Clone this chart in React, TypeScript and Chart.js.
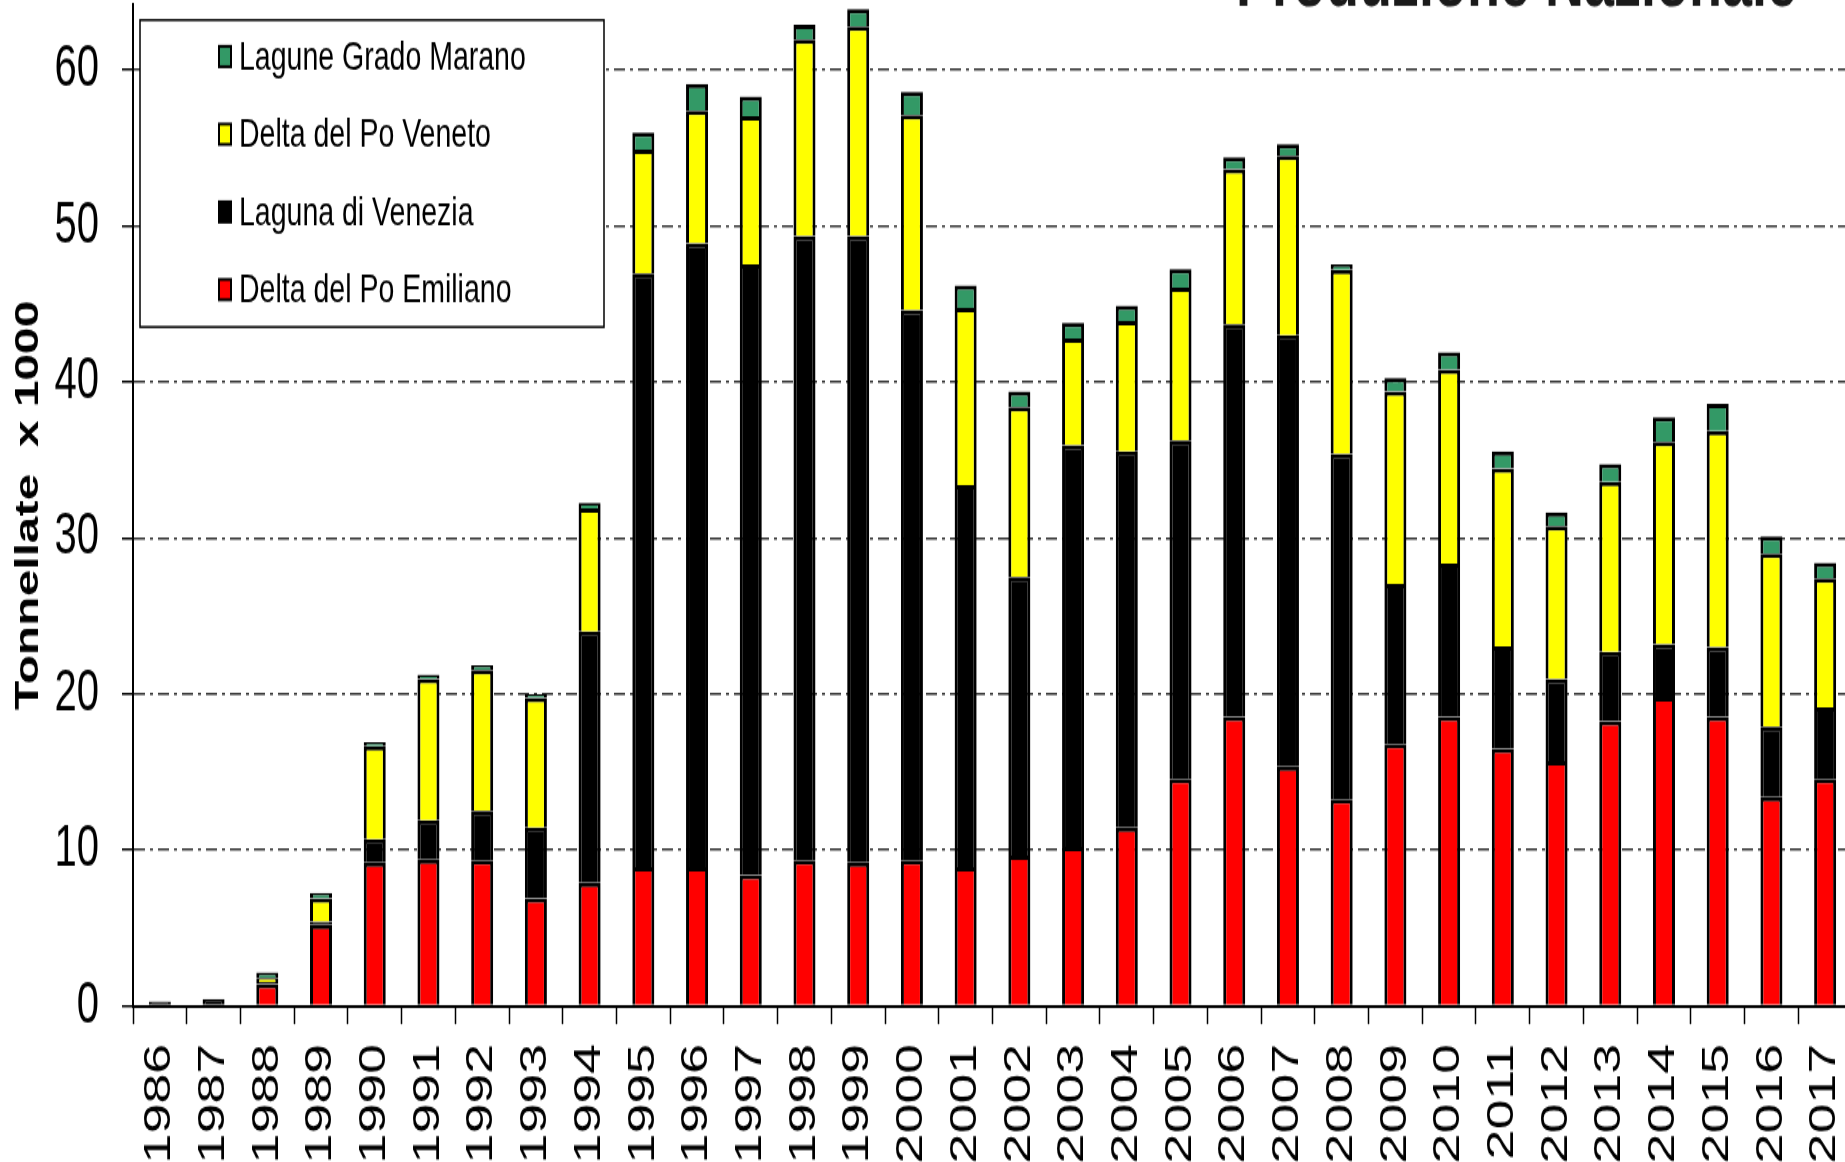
import React, { useEffect, useRef } from "react";
import { Chart, registerables } from "chart.js";

Chart.register(...registerables);

// ---------- data ----------
const YEARS = [
  "1986", "1987", "1988", "1989", "1990", "1991", "1992", "1993", "1994", "1995", "1996",
  "1997", "1998", "1999", "2000", "2001", "2002", "2003", "2004", "2005", "2006", "2007",
  "2008", "2009", "2010", "2011", "2012", "2013", "2014", "2015", "2016", "2017",
];

const DELTA_PO_EMILIANO = [
  0, 0, 1.4, 5.2, 9.2, 9.4, 9.35, 6.9, 7.9, 8.9, 8.9,
  8.4, 9.35, 9.2, 9.35, 8.9, 9.65, 10.2, 11.45, 14.55, 18.55, 15.35,
  13.25, 16.8, 18.55, 16.5, 15.7, 18.25, 19.8, 18.55, 13.4, 14.55,
];

const LAGUNA_DI_VENEZIA = [
  0.3, 0.45, 0.15, 0.2, 1.5, 2.5, 3.15, 4.55, 16.1, 38.05, 40.0,
  39.15, 40.0, 40.15, 35.25, 24.5, 17.85, 25.75, 24.1, 21.7, 25.15, 27.65,
  22.15, 10.25, 9.8, 6.55, 5.25, 4.45, 3.4, 4.45, 4.5, 4.6,
];

const DELTA_PO_VENETO = [
  0, 0, 0.25, 1.5, 5.95, 9.05, 9.05, 8.3, 7.9, 7.95, 8.5,
  9.5, 12.6, 13.45, 12.5, 11.35, 10.9, 6.85, 8.35, 9.8, 9.95, 11.5,
  11.8, 12.35, 12.45, 11.4, 9.8, 10.9, 12.95, 13.85, 11.1, 8.25,
];

const LAGUNE_GRADO_MARANO = [
  0, 0, 0.35, 0.35, 0.25, 0.3, 0.3, 0.25, 0.35, 1.1, 1.7,
  1.25, 0.95, 1.1, 1.5, 1.45, 1.0, 1.0, 1.0, 1.2, 0.75, 0.75,
  0.35, 0.85, 1.1, 1.1, 0.9, 1.15, 1.6, 1.75, 1.1, 1.0,
];

const SERIES_LABELS = [
  "Delta del Po Emiliano",
  "Laguna di Venezia",
  "Delta del Po Veneto",
  "Lagune Grado Marano",
];

const Y_MIN = 0;
const Y_MAX = 64.2;
const Y_STEP = 10;

const CHART_TITLE = "Produzione Nazionale";
const Y_TITLE = "Tonnellate  x 1000";

// ---------- styling ----------
const FONT = '"Liberation Sans", Arial, Helvetica, sans-serif';
const RED = "#FF0000";
const BLACK = "#000000";
const YELLOW = "#FFFF00";
const GREEN = "#339966";

const CANVAS_W = 1860;
const CANVAS_H = 840;
const SCALE_Y = 1.4525;
const SHIFT_Y = -58.1;

const legendBoxPlugin = {
  id: "legendBox",
  afterDatasetsDraw(chart: any) {
    const { ctx, chartArea } = chart;
    const x = chartArea.left + 7;
    const y = chartArea.top + 10.7;
    const w = 464;
    const h = 211.3;
    ctx.save();
    ctx.fillStyle = "#ffffff";
    ctx.fillRect(x, y, w, h);
    ctx.lineWidth = 1.5;
    ctx.strokeStyle = "#000";
    ctx.strokeRect(x, y, w, h);
    const items = chart.data.datasets.slice().reverse();
    ctx.font = `28.5px ${FONT}`;
    ctx.textBaseline = "middle";
    ctx.textAlign = "left";
    items.forEach((ds: any, i: number) => {
      const cy = y + 25.1 + i * 53.5;
      const mx = x + 78;
      ctx.fillStyle = "#000";
      ctx.fillRect(mx, cy - 8, 14, 16);
      ctx.fillStyle = ds.backgroundColor;
      ctx.fillRect(mx + 2, cy - 6, 10, 12);
      ctx.fillStyle = "#000";
      ctx.fillText(ds.label, mx + 21, cy + 1);
    });
    ctx.restore();
  },
};

const cornerTitlePlugin = {
  id: "cornerTitle",
  afterDraw(chart: any) {
    const { ctx, chartArea } = chart;
    ctx.save();
    ctx.font = `bold 54px ${FONT}`;
    ctx.fillStyle = "#1a1a1a";
    ctx.textAlign = "right";
    ctx.textBaseline = "alphabetic";
    ctx.fillText(CHART_TITLE, chartArea.right - 55, chartArea.top + 1);
    ctx.restore();
  },
};

export default function App() {
  const canvasRef = useRef<HTMLCanvasElement>(null);

  useEffect(() => {
    if (!canvasRef.current) return;
    const common = {
      borderColor: BLACK,
      borderWidth: 3,
      inflateAmount: 0,
      barPercentage: 0.41,
      categoryPercentage: 1,
    };
    const chart = new Chart(canvasRef.current, {
      type: "bar",
      data: {
        labels: YEARS,
        datasets: [
          { label: SERIES_LABELS[0], data: DELTA_PO_EMILIANO, backgroundColor: RED, ...common },
          { label: SERIES_LABELS[1], data: LAGUNA_DI_VENEZIA, backgroundColor: BLACK, ...common },
          { label: SERIES_LABELS[2], data: DELTA_PO_VENETO, backgroundColor: YELLOW, ...common },
          { label: SERIES_LABELS[3], data: LAGUNE_GRADO_MARANO, backgroundColor: GREEN, ...common },
        ],
      },
      options: {
        animation: false,
        responsive: false,
        devicePixelRatio: 1,
        layout: { padding: { top: 43.1, right: 8, left: 0, bottom: 0 } },
        plugins: {
          legend: { display: false },
          title: { display: false },
          tooltip: { enabled: false },
        },
        scales: {
          x: {
            stacked: true,
            offset: true,
            afterFit: (s: any) => {
              s.height = 107.4;
              s.paddingLeft = 0;
              s.paddingRight = 0;
              s.paddingTop = 0;
              s.paddingBottom = 0;
            },
            grid: {
              display: true,
              drawOnChartArea: false,
              drawTicks: true,
              tickLength: 12.5,
              tickColor: "#000",
              tickWidth: 1.5,
              offset: true,
            },
            border: { display: true, color: "#000", width: 2 },
            ticks: {
              minRotation: 90,
              maxRotation: 90,
              autoSkip: false,
              padding: 13.5,
              color: "#000",
              font: { family: FONT, size: 37 },
            },
          },
          y: {
            stacked: true,
            min: Y_MIN,
            max: Y_MAX,
            afterFit: (s: any) => {
              s.width = 133;
              s.paddingLeft = 0;
              s.paddingRight = 0;
              s.paddingTop = 0;
              s.paddingBottom = 0;
            },
            ticks: {
              stepSize: Y_STEP,
              includeBounds: false,
              padding: 23,
              color: "#000",
              font: { family: FONT, size: 40 },
            },
            grid: {
              color: (c: any) => (c.tick && c.tick.value === 0 ? "rgba(0,0,0,0)" : "#333333"),
              lineWidth: 1.5,
              drawTicks: true,
              tickLength: 11,
              tickColor: "#000",
              tickWidth: 1.5,
            },
            border: { display: true, color: "#000", width: 2, dash: [11, 5, 3, 5] },
            title: {
              display: true,
              text: Y_TITLE,
              color: "#000",
              font: { family: FONT, size: 33, weight: "bold", lineHeight: 1 },
              padding: { top: 12, bottom: 0 },
            },
          },
        },
      } as any,
      plugins: [legendBoxPlugin, cornerTitlePlugin],
    });
    return () => chart.destroy();
  }, []);

  return (
    <div
      style={{
        position: "absolute",
        left: 0,
        top: 0,
        width: 1845,
        height: 1162,
        overflow: "hidden",
        background: "#ffffff",
      }}
    >
      <div
        style={{
          width: CANVAS_W,
          height: CANVAS_H,
          transform: `translateY(${SHIFT_Y}px) scaleY(${SCALE_Y})`,
          transformOrigin: "0 0",
        }}
      >
        <canvas ref={canvasRef} width={CANVAS_W} height={CANVAS_H} style={{ display: "block" }} />
      </div>
    </div>
  );
}
